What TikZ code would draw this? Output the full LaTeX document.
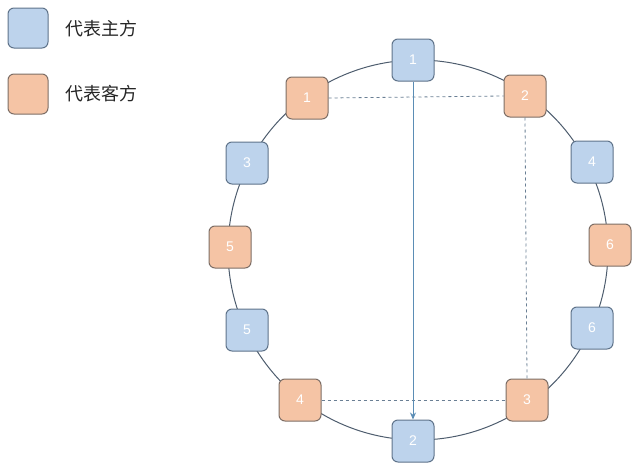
\documentclass[tikz,border=0pt]{standalone}
\usepackage{fontspec}
\newfontfamily\cjk{Noto Sans CJK SC}
\setmainfont{Liberation Sans}
\usetikzlibrary{arrows.meta}
\definecolor{bfill}{HTML}{BDD3EC}
\definecolor{bdraw}{HTML}{5F738A}
\definecolor{ofill}{HTML}{F5C4A5}
\definecolor{odraw}{HTML}{7D6E66}
\definecolor{ring}{HTML}{4E5D6E}
\definecolor{link}{HTML}{5B8DB5}
\definecolor{dlink}{HTML}{6A7F94}
\tikzset{
  box/.style={minimum size=42pt,inner sep=0pt,rounded corners=6pt,line width=1pt,text=white,font=\fontsize{14}{14}\selectfont},
  hostbox/.style={box,fill=bfill,draw=bdraw},
  guestbox/.style={box,fill=ofill,draw=odraw},
  legtext/.style={anchor=west,inner sep=0pt,font=\cjk\fontsize{18}{18}\selectfont,text=black!85},
  dashlink/.style={draw=dlink,dashed,line width=0.8pt},
  arrowlink/.style={draw=link,line width=0.9pt,-{Stealth[length=7pt,width=6pt]}}
}
\begin{document}
\begin{tikzpicture}[x=1pt,y=-1pt]
\useasboundingbox (0,0) rectangle (640,471);
\draw[ring,line width=1pt] (418,250) circle (190);
\node[hostbox,minimum size=40pt] (lh) at (28,28) {};
\node[legtext] at (65,29) {代表主方};
\node[guestbox,minimum size=40pt] (lg) at (28,94) {};
\node[legtext] at (65,94) {代表客方};
\node[hostbox] (h1) at (413,60) {1};
\node[hostbox] (h3) at (247,163) {3};
\node[hostbox] (h5) at (247,330) {5};
\node[hostbox] (h2) at (413,441) {2};
\node[hostbox] (h4) at (592,162) {4};
\node[hostbox] (h6) at (592,328) {6};
\node[guestbox] (g1) at (307,98) {1};
\node[guestbox] (g2) at (525,96) {2};
\node[guestbox] (g5) at (230,247) {5};
\node[guestbox] (g6) at (610,245) {6};
\node[guestbox] (g4) at (300,400) {4};
\node[guestbox] (g3) at (527,400) {3};
\draw[dashlink] (g1.east) -- (g2.west);
\draw[dashlink] (g2.south) -- (g3.north);
\draw[dashlink] (g4.east) -- (g3.west);
\draw[arrowlink] (h1.south) -- (h2.north);
\end{tikzpicture}
\end{document}
